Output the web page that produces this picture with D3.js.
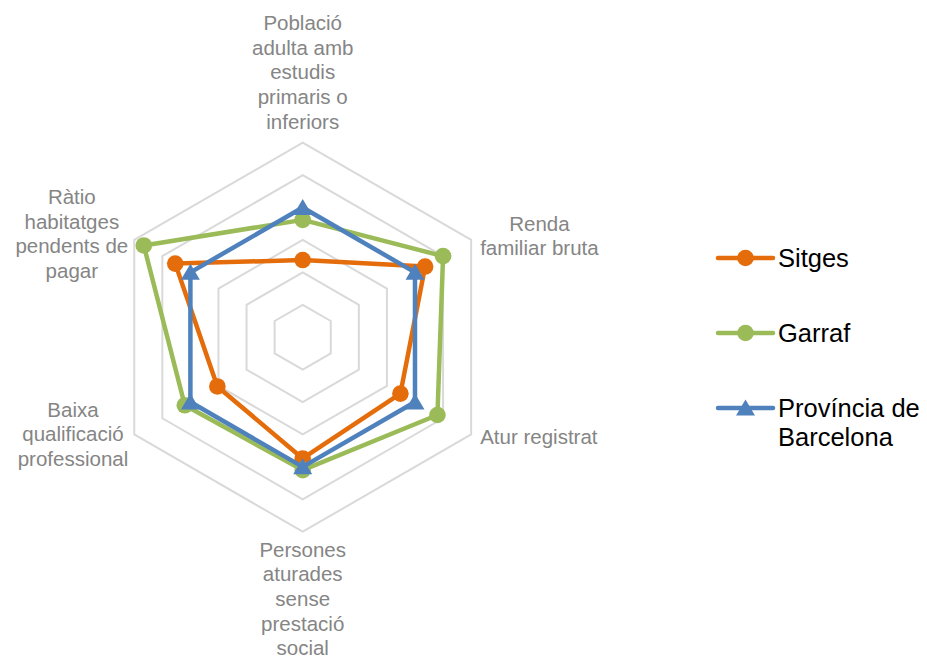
<!DOCTYPE html>
<html>
<head>
<meta charset="utf-8">
<script src="https://cdn.jsdelivr.net/npm/d3@7"></script>
<style>
  body { margin: 0; background: #fff; }
  text { font-family: "Liberation Sans", Arial, sans-serif; }
</style>
</head>
<body>
<svg id="chart" width="927" height="659"></svg>
<script>
// Axis labels, clockwise from the top (each entry = lines of the label)
const axes = [
  ["Població", "adulta amb", "estudis", "primaris o", "inferiors"],
  ["Renda", "familiar bruta"],
  ["Atur registrat"],
  ["Persones", "aturades", "sense", "prestació", "social"],
  ["Baixa", "qualificació", "professional"],
  ["Ràtio", "habitatges", "pendents de", "pagar"]
]
const seriesNames = ["Sitges", "Garraf", "Província de Barcelona"]
const sitges    = [59.5, 109, 87, 93.5, 76, 113.5]
const garraf    = [90.5, 125, 120, 102.5, 105, 141.5]
const provincia = [100, 100, 100, 100, 100, 100]
const ringTicks = [25, 50, 75, 100, 125, 150]
const colors = ["#E46C0A", "#9BBB59", "#4F81BD"]
const markers = ["circle", "circle", "triangle"]

const svg = d3.select('#chart')
const cx = 302.7, cy = 337.2, radius = 194.5

const rScale = d3.scaleLinear().domain([0, 150]).range([0, radius])
const angle = i => i * Math.PI * 2 / axes.length
const pointAt = (i, v) => [cx + rScale(v) * Math.sin(angle(i)), cy - rScale(v) * Math.cos(angle(i))]

// Grid rings (hexagons)
const ringLine = d3.line().curve(d3.curveLinearClosed)
svg.append('g').selectAll('path')
  .data(ringTicks)
  .join('path')
    .attr('d', t => ringLine(axes.map((a, i) => pointAt(i, t))))
    .attr('fill', 'none')
    .attr('stroke', '#d9d9d9')
    .attr('stroke-width', 2)

// Axis labels
const lineH = 24.7
const labels = svg.append('g')
  .attr('font-size', '20.5px')
  .attr('fill', '#858585')
axes.forEach((lines, i) => {
  const [vx, vy] = pointAt(i, 150)
  const g = labels.append('text').attr('text-anchor', 'middle')
  lines.forEach((l, j) => g.append('tspan').attr('x', 0).attr('y', j * lineH).text(l))
  const w = d3.max(g.selectAll('tspan').nodes(), n => n.getComputedTextLength())
  const blockH = (lines.length - 1) * lineH
  let x, y
  if (i === 0) { x = vx; y = vy - 14 - blockH }
  else if (i === 3) { x = vx; y = vy + 25 }
  else if (i === 1) { x = vx + 9 + w / 2; y = vy - blockH / 2 + 3 }
  else if (i === 2) { x = vx + 9 + w / 2; y = vy - blockH / 2 + 10 }
  else if (i === 4) { x = vx - 6 - w / 2; y = vy - blockH / 2 + 7 }
  else { x = vx - 6 - w / 2; y = vy - blockH / 2 + 1 }
  g.attr('transform', `translate(${x},${y})`)
})

// Markers
const drawMarker = (sel, type, color) => {
  if (type === 'circle') {
    sel.append('circle').attr('r', 8.3).attr('fill', color)
  } else {
    sel.append('path').attr('d', 'M0,-8.5L9.5,7.5L-9.5,7.5Z').attr('fill', color)
  }
}

// Series
const allSeries = [sitges, garraf, provincia]
allSeries.forEach((vals, s) => {
  const pts = vals.map((v, i) => pointAt(i, v))
  const g = svg.append('g')
  g.append('path')
    .attr('d', ringLine(pts))
    .attr('fill', 'none')
    .attr('stroke', colors[s])
    .attr('stroke-width', 4.5)
    .attr('stroke-linejoin', 'round')
  g.selectAll('g.mk')
    .data(pts)
    .join('g')
      .attr('class', 'mk')
      .attr('transform', d => `translate(${d[0]},${d[1]})`)
      .each(function() { drawMarker(d3.select(this), markers[s], colors[s]) })
})

// Legend
const legendY = [258, 333, 408]
const legend = svg.append('g').attr('font-size', '25.5px').attr('fill', '#000')
seriesNames.forEach((name, s) => {
  const g = legend.append('g').attr('transform', `translate(718,${legendY[s]})`)
  g.append('line')
    .attr('x1', 0).attr('x2', 55)
    .attr('stroke', colors[s]).attr('stroke-width', 4.5).attr('stroke-linecap', 'round')
  const m = g.append('g').attr('transform', 'translate(27.5,0)')
  drawMarker(m, markers[s], colors[s])
  const words = s === 2 ? ["Província de", "Barcelona"] : [name]
  const t = g.append('text').attr('x', 60).attr('y', 9)
  words.forEach((w, j) => t.append('tspan').attr('x', 60).attr('dy', j === 0 ? 0 : 28.5).text(w))
})
</script>
</body>
</html>
